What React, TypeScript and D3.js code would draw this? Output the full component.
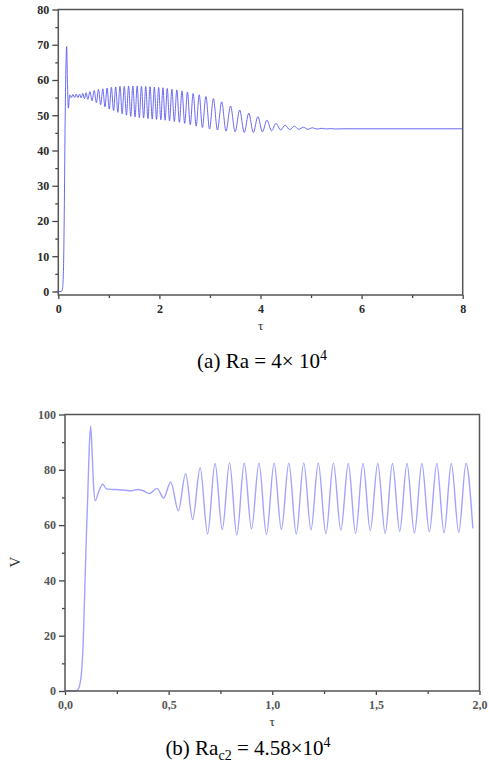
import React, { useEffect, useRef } from 'react';
import * as d3 from 'd3';

// panel (a): V(τ), Ra = 4×10^4 — extrema
const curveA: [number, number][] = [
  [0, 0], [0.06, 0], [0.085, 1], [0.105, 8], [0.12, 25], [0.135, 48], [0.15, 63],
  [0.165, 69.5], [0.18, 60], [0.198, 52], [0.225, 55.8],
  [0.258, 55.0], [0.29, 55.9], [0.323, 55.0], [0.355, 56.0], [0.388, 55.0], [0.42, 56.0],
  [0.453, 54.9], [0.485, 56.2], [0.518, 54.7], [0.55, 56.4], [0.583, 54.5],
  [0.625, 56.7], [0.668, 54.1], [0.71, 57.0], [0.753, 53.6], [0.795, 57.3], [0.838, 53.0],
  [0.88, 57.5], [0.923, 52.4], [0.965, 57.7], [1.008, 51.8], [1.05, 57.9], [1.093, 51.3],
  [1.135, 58.0], [1.178, 50.8], [1.22, 58.2], [1.263, 50.4], [1.305, 58.2], [1.348, 50.0],
  [1.39, 58.3], [1.433, 49.7], [1.475, 58.3], [1.518, 49.5], [1.56, 58.3], [1.603, 49.3],
  [1.645, 58.2], [1.688, 49.2], [1.73, 58.2], [1.773, 49.0], [1.815, 58.1], [1.858, 48.9],
  [1.9, 58.0], [1.943, 48.8], [1.985, 57.9], [2.028, 48.7], [2.07, 57.8], [2.113, 48.6],
  [2.155, 57.6], [2.2, 48.4], [2.247, 57.4], [2.295, 48.2], [2.345, 57.2], [2.395, 48.0],
  [2.447, 56.9], [2.5, 47.7], [2.555, 56.6], [2.61, 47.3], [2.668, 56.2], [2.727, 46.9],
  [2.788, 55.8], [2.85, 46.5], [2.92, 55.3], [2.992, 46.1], [3.068, 54.7], [3.148, 45.8],
  [3.232, 53.8], [3.318, 45.5], [3.408, 52.6], [3.498, 45.3], [3.588, 51.5], [3.678, 45.1],
  [3.768, 50.6], [3.858, 45.1], [3.948, 49.6], [4.038, 45.3], [4.128, 48.6], [4.218, 45.6],
  [4.308, 47.7], [4.398, 45.8], [4.488, 47.2], [4.578, 45.9], [4.668, 46.9], [4.758, 46.0],
  [4.848, 46.6], [4.938, 46.0], [5.028, 46.45], [5.118, 46.05], [5.208, 46.3], [5.298, 46.1],
  [5.388, 46.2], [5.478, 46.1], [5.6, 46.15], [8.0, 46.15],
];

// panel (b): V(τ), Ra_c2 = 4.58×10^4
const curveB: [number, number][] = [
  [0, 0], [0.05, 0], [0.062, 0.5], [0.072, 2.5], [0.08, 7], [0.088, 18], [0.096, 38],
  [0.104, 58], [0.11, 71], [0.117, 88], [0.124, 95.8], [0.131, 86], [0.138, 74],
  [0.146, 68.8], [0.162, 72], [0.182, 74.8], [0.2, 73.1], [0.23, 72.9], [0.26, 72.8],
  [0.29, 72.6], [0.32, 72.4], [0.35, 72.9], [0.375, 72.5], [0.407, 71.4], [0.444, 73.3],
  [0.476, 69.8], [0.51, 75.6], [0.547, 65.2], [0.582, 78.6], [0.616, 62.0], [0.652, 80.8],
  [0.688, 56.8], [0.724, 82.3], [0.759, 58.4], [0.794, 82.5], [0.829, 56.4], [0.865, 82.4],
  [0.9, 58.6], [0.936, 82.4], [0.972, 56.6], [1.009, 82.4], [1.044, 58.4], [1.08, 82.4],
  [1.116, 56.8], [1.152, 82.4], [1.187, 58.3], [1.222, 82.4], [1.259, 56.9], [1.295, 82.4],
  [1.331, 58.2], [1.367, 82.3], [1.402, 57.0], [1.438, 82.3], [1.473, 58.0], [1.509, 82.3],
  [1.545, 57.0], [1.58, 82.3], [1.615, 57.8], [1.65, 82.3], [1.686, 57.1], [1.722, 82.3],
  [1.758, 57.6], [1.794, 82.3], [1.829, 57.2], [1.864, 82.3], [1.9, 57.4], [1.935, 82.3],
  [1.968, 58.8],
];

const xTicksA = [0, 2, 4, 6, 8];
const xMinorA = [1, 3, 5, 7];
const yTicksA = [0, 10, 20, 30, 40, 50, 60, 70, 80];
const yMinorA = [5, 15, 25, 35, 45, 55, 65, 75];

const xTicksB = [0, 0.5, 1, 1.5, 2];
const xLabelsB = ['0,0', '0,5', '1,0', '1,5', '2,0'];
const xMinorB = [0.25, 0.75, 1.25, 1.75];
const yTicksB = [0, 20, 40, 60, 80, 100];
const yMinorB = [10, 30, 50, 70, 90];

const SERIF = "'Liberation Serif', 'Times New Roman', serif";

function drawPanel(svg, opt) {
  const { x, y, data, xTicks, xMinor, xFmt, yTicks, yMinor, color, width, labelFill } = opt;
  const [x0, x1] = x.range();
  const [yb, yt] = y.range();
  const g = svg.append('g');

  const yAxis = g.append('g')
    .attr('transform', `translate(${x0},0)`)
    .call(d3.axisLeft(y).tickValues(yTicks).tickSize(6).tickPadding(3).tickFormat(d3.format('d')));
  g.append('g')
    .attr('transform', `translate(${x0},0)`)
    .call(d3.axisLeft(y).tickValues(yMinor).tickSize(3).tickFormat(() => ''));
  const xAxis = g.append('g')
    .attr('transform', `translate(0,${yb})`)
    .call(d3.axisBottom(x).tickValues(xTicks).tickSize(4).tickPadding(5).tickFormat(xFmt));
  g.append('g')
    .attr('transform', `translate(0,${yb})`)
    .call(d3.axisBottom(x).tickValues(xMinor).tickSize(3).tickFormat(() => ''));

  g.selectAll('.domain').remove();
  g.selectAll('.tick line').attr('stroke', '#444').attr('stroke-width', 1.3);
  [yAxis, xAxis].forEach((a) =>
    a.selectAll('text')
      .attr('font-family', SERIF)
      .attr('font-size', 12)
      .attr('font-weight', 'bold')
      .attr('fill', labelFill)
  );

  const line = d3.line()
    .x((d) => x(d[0]))
    .y((d) => y(d[1]))
    .curve(d3.curveMonotoneX);

  g.append('path')
    .datum(data)
    .attr('d', line)
    .attr('fill', 'none')
    .attr('stroke', color)
    .attr('stroke-width', width);

  g.append('rect')
    .attr('x', x0)
    .attr('y', yt)
    .attr('width', x1 - x0)
    .attr('height', yb - yt)
    .attr('fill', 'none')
    .attr('stroke', '#555')
    .attr('stroke-width', 1.5);
}

export default function App() {
  const ref = useRef(null);

  useEffect(() => {
    const svg = d3.select(ref.current);
    svg.selectAll('*').remove();

    const xA = d3.scaleLinear().domain([0, 8]).range([58.3, 462.7]);
    const yA = d3.scaleLinear().domain([-1, 80]).range([295, 9.5]);
    drawPanel(svg, {
      x: xA, y: yA, data: curveA,
      xTicks: xTicksA, xMinor: xMinorA, xFmt: d3.format('d'),
      yTicks: yTicksA, yMinor: yMinorA,
      color: '#5a5af2', width: 0.9, labelFill: '#2a2a2a',
    });

    const xB = d3.scaleLinear().domain([0, 2]).range([65, 479.5]);
    const yB = d3.scaleLinear().domain([0, 100]).range([691, 414.5]);
    drawPanel(svg, {
      x: xB, y: yB, data: curveB,
      xTicks: xTicksB, xMinor: xMinorB, xFmt: (d, i) => xLabelsB[i],
      yTicks: yTicksB, yMinor: yMinorB,
      color: '#a3a3ff', width: 1.4, labelFill: '#555',
    });

    // axis titles
    svg.append('text').attr('x', 260.5).attr('y', 330).attr('text-anchor', 'middle')
      .attr('font-family', SERIF).attr('font-size', 13).attr('fill', '#333').text('τ');
    svg.append('text').attr('x', 272).attr('y', 726).attr('text-anchor', 'middle')
      .attr('font-family', SERIF).attr('font-size', 13).attr('fill', '#333').text('τ');
    svg.append('text').attr('transform', 'translate(20,562) rotate(-90)').attr('text-anchor', 'middle')
      .attr('font-family', SERIF).attr('font-size', 15).attr('fill', '#333').text('V');

    // captions
    const capA = svg.append('text').attr('x', 262).attr('y', 368).attr('text-anchor', 'middle')
      .attr('font-family', SERIF).attr('font-size', 21).attr('fill', '#000');
    capA.append('tspan').text('(a) Ra = 4× 10');
    capA.append('tspan').attr('dy', -8).attr('font-size', 14).text('4');

    const capB = svg.append('text').attr('x', 248).attr('y', 755).attr('text-anchor', 'middle')
      .attr('font-family', SERIF).attr('font-size', 21).attr('fill', '#000');
    capB.append('tspan').text('(b) Ra');
    capB.append('tspan').attr('dy', 5).attr('font-size', 14).text('c2');
    capB.append('tspan').attr('dy', -5).text(' = 4.58×10');
    capB.append('tspan').attr('dy', -8).attr('font-size', 14).text('4');
  }, []);

  return (
    <svg
      ref={ref}
      width={489}
      height={765}
      style={{ position: 'absolute', left: 0, top: 0, background: '#fff' }}
    />
  );
}
